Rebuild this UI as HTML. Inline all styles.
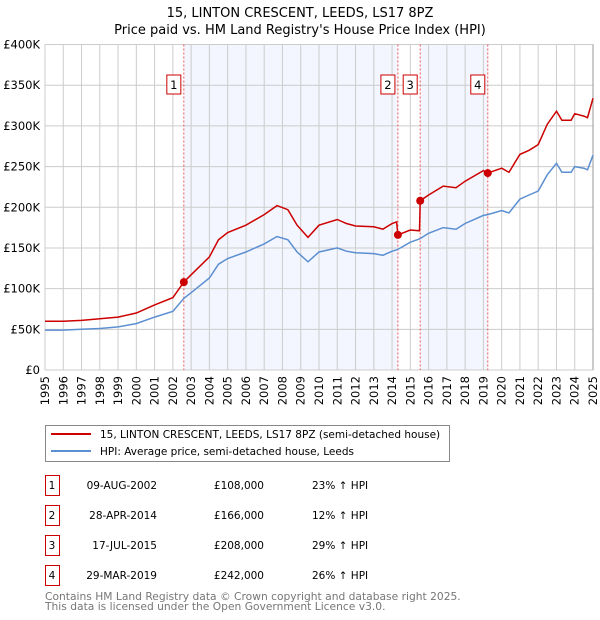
<!DOCTYPE html>
<html><head><meta charset="utf-8"><style>
body{margin:0;background:#fff;font-family:"DejaVu Sans","Liberation Sans",sans-serif;}
svg{display:block}
</style></head><body>
<svg id="c" width="600" height="620" xmlns="http://www.w3.org/2000/svg" font-family="DejaVu Sans, Liberation Sans, sans-serif">
<text x="300" y="17" text-anchor="middle" font-size="13">15, LINTON CRESCENT, LEEDS, LS17 8PZ</text>
<text x="300" y="34" text-anchor="middle" font-size="13">Price paid vs. HM Land Registry's House Price Index (HPI)</text>
<g id="plot"></g>
<g>
<rect x="45.5" y="425.5" width="404" height="36" fill="#fff" stroke="#888"/>
<line x1="51" y1="434" x2="91" y2="434" stroke="#cc0000" stroke-width="2"/>
<text x="100" y="438" font-size="10.5">15, LINTON CRESCENT, LEEDS, LS17 8PZ (semi-detached house)</text>
<line x1="51" y1="451" x2="91" y2="451" stroke="#5b8fd1" stroke-width="2"/>
<text x="100" y="455" font-size="10.5">HPI: Average price, semi-detached house, Leeds</text>
</g>
<g id="tbl"></g>
<text x="45" y="600" font-size="10.7" fill="#777">Contains HM Land Registry data © Crown copyright and database right 2025.</text>
<text x="45" y="610" font-size="10.7" fill="#777">This data is licensed under the Open Government Licence v3.0.</text>
</svg>
<script>
const hpiYears=[1995,1996,1997,1998,1999,2000,2001,2002,2002.6,2003,2004,2004.5,2005,2006,2007,2007.7,2008.3,2008.8,2009.4,2010,2011,2011.5,2012,2013,2013.5,2014,2014.3,2015,2015.5,2016,2016.8,2017.5,2018,2019,2019.24,2020,2020.4,2021,2021.5,2022,2022.5,2023,2023.3,2023.8,2024,2024.5,2024.7,2025];
const hpiValues=[49,49,50,51,53,57,65,72,88,95,113,130,137,145,155,164,160,145,133,145,150,146,144,143,141,146,148,157,161,168,175,173,180,190,191,196,193,210,215,220,240,254,243,243,250,248,246,264];
const priceYears=[1995,1996,1997,1998,1999,2000,2001,2002,2002.6,2003,2004,2004.5,2005,2006,2007,2007.7,2008.3,2008.8,2009.4,2010,2011,2011.5,2012,2013,2013.5,2014,2014.25,2014.32,2015,2015.5,2015.54,2016,2016.8,2017.5,2018,2019,2019.24,2020,2020.4,2021,2021.5,2022,2022.5,2023,2023.3,2023.8,2024,2024.5,2024.7,2025];
const priceValues=[60,60,61,63,65,70,80,89,108,117,139,160,169,178,191,202,197,178,163,178,185,180,177,176,173,180,182,166,172,171,208,215,226,224,232,245,242,248,243,265,270,277,302,318,307,307,315,312,310,334];
const saleLabels=["1","2","3","4"];
const saleYears=[2002.6,2014.32,2015.54,2019.24];
const saleValues=[108,166,208,242];
const saleDates=["09-AUG-2002","28-APR-2014","17-JUL-2015","29-MAR-2019"];
const salePrices=["£108,000","£166,000","£208,000","£242,000"];
const salePcts=["23% ↑ HPI","12% ↑ HPI","29% ↑ HPI","26% ↑ HPI"];
const yTicks=[0,50,100,150,200,250,300,350,400];
const yTickLabels=["£0","£50K","£100K","£150K","£200K","£250K","£300K","£350K","£400K"];
const xTicks=[1995,1996,1997,1998,1999,2000,2001,2002,2003,2004,2005,2006,2007,2008,2009,2010,2011,2012,2013,2014,2015,2016,2017,2018,2019,2020,2021,2022,2023,2024,2025];

const X0=45,X1=593,Y0=370,Y1=44.5;
const xs=y=>X0+(y-1995)/30*(X1-X0);
const ys=v=>Y0-v/400*(Y0-Y1);
const NS="http://www.w3.org/2000/svg";
const plot=document.getElementById('plot');
function mk(tag,attrs,parent){const e=document.createElementNS(NS,tag);for(const k in attrs)e.setAttribute(k,attrs[k]);(parent||plot).appendChild(e);return e;}

[[0,1],[2,3]].forEach(p=>{
 const r=mk('rect',{x:xs(saleYears[p[0]]),y:Y1,width:xs(saleYears[p[1]])-xs(saleYears[p[0]]),height:Y0-Y1,fill:'#f3f6fe'});
 
 
});
xTicks.forEach((t,i)=>{
 const l=mk('line',{x1:xs(t),x2:xs(t),y1:Y1,y2:Y0,stroke:'#cccccc','stroke-width':1});
 
 
 const tx=mk('text',{x:0,y:0,'font-size':11.5,'text-anchor':'end',transform:`translate(${xs(t)+4},${Y0+6}) rotate(-90)`});
 tx.textContent=t;
 
 
});
yTicks.forEach((t,i)=>{
 const l=mk('line',{x1:X0,x2:X1,y1:ys(t),y2:ys(t),stroke:'#cccccc','stroke-width':1});
 
 
 const tx=mk('text',{x:X0-5,y:ys(t)+4,'font-size':11.5,'text-anchor':'end'});
 tx.textContent=yTickLabels[i];
 
 
});
const rb=mk('line',{x1:X1,x2:X1,y1:Y1,y2:Y0,stroke:'#999','stroke-width':1});


saleYears.forEach((s,i)=>{
 const l=mk('line',{x1:xs(s),x2:xs(s),y1:Y1,y2:Y0,stroke:'#ee5555','stroke-width':1,'stroke-dasharray':'2,2'});
 
 
 const r=mk('rect',{x:xs(s)-17,y:75,width:14,height:19,fill:'#fff',stroke:'#cc0000'});
 
 
 const t=mk('text',{x:xs(s)-10,y:89,'font-size':11.5,'text-anchor':'middle'});
 t.textContent=saleLabels[i];
 
 
});
function path(xa,va){return xa.map((y,i)=>(i?'L':'M')+xs(y).toFixed(1)+','+ys(va[i]).toFixed(1)).join('');}
const hp=mk('path',{d:path(hpiYears,hpiValues),fill:'none',stroke:'#5b8fd1','stroke-width':1.5});


const pp=mk('path',{d:path(priceYears,priceValues),fill:'none',stroke:'#cc0000','stroke-width':1.5});


saleYears.forEach((s,i)=>{
 const c=mk('circle',{cx:xs(s),cy:ys(saleValues[i]),r:4,fill:'#cc0000'});
 
 
});
const tbl=document.getElementById('tbl');
saleLabels.forEach((l,i)=>{
 const y=475+i*30;
 const r=mk('rect',{x:45.5,y:y+0.5,width:14,height:20,fill:'#fff',stroke:'#cc0000'},tbl);
 
 
 const cells=[[52,'middle',l,'table-sale-number'],[157,'end',saleDates[i],'table-date'],[264,'end',salePrices[i],'table-price'],[312,'start',salePcts[i],'table-hpi-diff']];
 cells.forEach(c=>{
  const t=mk('text',{x:c[0],y:y+14,'font-size':10.5,'text-anchor':c[1]},tbl);
  t.textContent=c[2];
  
  
 });
});
</script>
</body></html>
